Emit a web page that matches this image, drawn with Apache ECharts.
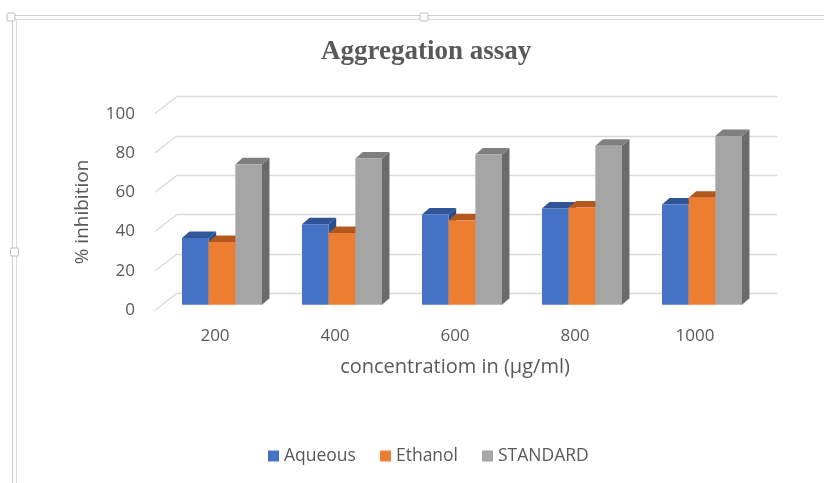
<!DOCTYPE html>
<html>
<head>
<meta charset="utf-8">
<script src="https://cdn.jsdelivr.net/npm/echarts@6/dist/echarts.min.js"></script>
<style>html,body{margin:0;padding:0;background:#fff}#c{width:824px;height:483px}</style>
</head>
<body>
<div id="c"></div>
<script>
const categories = ['200', '400', '600', '800', '1000'];
const aqueous = [34, 41, 46, 49, 51];
const ethanol = [32, 36.5, 43, 49.5, 54.5];
const standard = [71.5, 74.5, 76.5, 81, 86];
const yTicks = [0, 20, 40, 60, 80, 100];
const seriesNames = ['Aqueous', 'Ethanol', 'STANDARD'];

const FONT = '"Open Sans", sans-serif';
const TXT = '#595959';
const faces = [
  { front: '#4472C4', top: '#2F5597', side: '#2B4F8C' },
  { front: '#ED7D31', top: '#B5581E', side: '#A9521C' },
  { front: '#A5A5A5', top: '#7F7F7F', side: '#6B6B6B' }
];
const BAR_DEPTH = [7.5, -6.5];
const WALL_DEPTH = [-22, 17];

function barRender(k) {
  return function (params, api) {
    const i = api.value(0), v = api.value(1);
    const band = api.size([1, 0])[0];
    const bw = band * 0.2222;
    const c = api.coord([i, v]);
    const b = api.coord([i, 0]);
    const x0 = c[0] + (k - 1.5) * bw;
    const x1 = x0 + bw;
    const yt = c[1], yb = b[1];
    const dx = BAR_DEPTH[0], dy = BAR_DEPTH[1];
    const f = faces[k];
    return {
      type: 'group',
      children: [
        { type: 'polygon', shape: { points: [[x1, yb], [x1 + dx, yb + dy], [x1 + dx, yt + dy], [x1, yt]] }, style: { fill: f.side } },
        { type: 'polygon', shape: { points: [[x0, yt], [x0 + dx, yt + dy], [x1 + dx, yt + dy], [x1, yt]] }, style: { fill: f.top } },
        { type: 'rect', shape: { x: x0, y: yt, width: bw, height: yb - yt }, style: { fill: f.front } }
      ]
    };
  };
}

function wallRender(params, api) {
  const v = api.value(0);
  const band = api.size([1, 0])[0];
  const p = api.coord([0, v]);
  const x = p[0] - band / 2;
  return {
    type: 'line',
    shape: { x1: x, y1: p[1], x2: x + WALL_DEPTH[0], y2: p[1] + WALL_DEPTH[1] },
    style: { stroke: '#D9D9D9', lineWidth: 1.3 }
  };
}

const seriesData = [aqueous, ethanol, standard];
const series = [
  {
    type: 'custom', xAxisIndex: 0, yAxisIndex: 0, silent: true,
    renderItem: wallRender, data: yTicks.map(t => [t]), encode: { y: 0 }
  }
];
seriesData.forEach((arr, k) => {
  series.push({
    name: seriesNames[k], type: 'custom', xAxisIndex: 2, yAxisIndex: 2,
    itemStyle: { color: faces[k].front },
    renderItem: barRender(k),
    data: arr.map((v, i) => [i, v]),
    encode: { x: 0, y: 1 }
  });
});

const chart = echarts.init(document.getElementById('c'), null, { renderer: 'canvas' });
chart.setOption({
  animation: false,
  backgroundColor: '#fff',
  title: {
    text: 'Aggregation assay', left: 316, top: 34,
    textStyle: { fontFamily: '"Liberation Serif", "Times New Roman", serif', fontWeight: 'bold', fontSize: 27, color: TXT }
  },
  legend: {
    data: seriesNames, left: 263, top: 442, itemWidth: 11, itemHeight: 11, itemGap: 24,
    icon: 'rect', textStyle: { fontFamily: FONT, fontSize: 17.5, color: TXT }
  },
  grid: [
    { left: 177, right: 47, top: 96.5, bottom: 189.7 },
    { left: 155, right: 69, top: 114, bottom: 173 },
    { left: 162, right: 62, top: 108.4, bottom: 178.3 }
  ],
  xAxis: [
    { gridIndex: 0, type: 'category', data: categories, axisLine: { show: false }, axisTick: { show: false }, axisLabel: { show: false } },
    {
      gridIndex: 1, type: 'category', data: categories,
      axisLine: { show: false }, axisTick: { show: false },
      axisLabel: { margin: 18, fontFamily: FONT, fontSize: 17, color: TXT },
      name: 'concentratiom in (µg/ml)', nameLocation: 'middle', nameGap: 47,
      nameTextStyle: { fontFamily: FONT, fontSize: 20, color: TXT }
    },
    { gridIndex: 2, type: 'category', data: categories, show: false }
  ],
  yAxis: [
    {
      gridIndex: 0, type: 'value', min: 0, max: 100, interval: 20,
      axisLine: { show: false }, axisTick: { show: false }, axisLabel: { show: false },
      splitLine: { lineStyle: { color: '#D9D9D9', width: 1.3 } }
    },
    {
      gridIndex: 1, type: 'value', min: 0, max: 100, interval: 20,
      axisLine: { show: false }, axisTick: { show: false }, splitLine: { show: false },
      axisLabel: { margin: 20, fontFamily: FONT, fontSize: 17, color: TXT },
      name: '% inhibition', nameLocation: 'middle', nameGap: 63,
      nameTextStyle: { fontFamily: FONT, fontSize: 19, color: TXT }
    },
    { gridIndex: 2, type: 'value', min: 0, max: 100, show: false }
  ],
  graphic: [
    { type: 'line', shape: { x1: 10, y1: 15.5, x2: 824, y2: 15.5 }, style: { stroke: '#CFCFCF', lineWidth: 1 } },
    { type: 'line', shape: { x1: 14, y1: 19.5, x2: 824, y2: 19.5 }, style: { stroke: '#DCDCDC', lineWidth: 1 } },
    { type: 'line', shape: { x1: 12.5, y1: 15, x2: 12.5, y2: 483 }, style: { stroke: '#CFCFCF', lineWidth: 1 } },
    { type: 'line', shape: { x1: 16.5, y1: 19, x2: 16.5, y2: 483 }, style: { stroke: '#DCDCDC', lineWidth: 1 } },
    { type: 'rect', shape: { x: 7, y: 13, width: 8, height: 8, r: 1.5 }, style: { fill: '#fff', stroke: '#BDBDBD', lineWidth: 1 } },
    { type: 'rect', shape: { x: 420, y: 13, width: 8, height: 8, r: 1.5 }, style: { fill: '#fff', stroke: '#BDBDBD', lineWidth: 1 } },
    { type: 'rect', shape: { x: 10.5, y: 248, width: 8, height: 8, r: 1.5 }, style: { fill: '#fff', stroke: '#BDBDBD', lineWidth: 1 } }
  ],
  series: series
});
</script>
</body>
</html>
